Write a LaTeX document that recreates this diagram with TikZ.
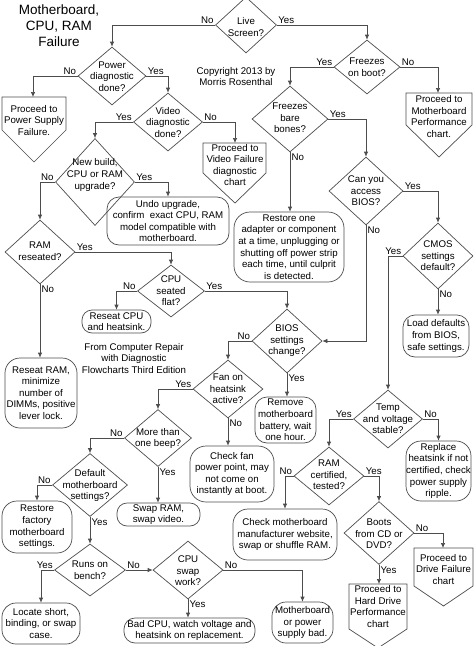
\documentclass[tikz,border=0pt]{standalone}
\usepackage{fontspec}
\setmainfont{Liberation Sans}
\usetikzlibrary{shapes.geometric,arrows.meta}
\definecolor{lc}{gray}{0.3}
\tikzset{
  every node/.style={font=\fontsize{9.7}{11.6}\selectfont, text=black, inner sep=0pt},
  ln/.style={draw=lc, line width=0.7pt},
  arr/.style={ln, -{Latex[length=5pt,width=4.5pt]}},
  dia/.style={diamond, ln, inner sep=0pt},
  rbox/.style={ln, rounded corners=12pt, align=center, inner sep=0pt},
  sbox/.style={ln, rounded corners=10pt, align=center, inner sep=0pt},
  txt/.style={align=center},
  lbl/.style={inner sep=1.2pt},
}
\begin{document}
\begin{tikzpicture}[x=1pt,y=-1pt]
\useasboundingbox (0,0) rectangle (474,646);

% title and notes
\node[font=\fontsize{13.5}{16}\selectfont, align=center] (title) at (59,26) {Motherboard,\\CPU, RAM\\Failure};
\node[txt] (copy) at (236,76.5) {Copyright 2013 by\\Morris Rosenthal};
\node[txt] (from) at (134,358.5) {From Computer Repair\\with Diagnostic\\Flowcharts Third Edition};

% diamonds
\node[dia, minimum width=61pt, minimum height=56pt] (live) at (246,25) {};
\node[txt] at (246,27) {Live\\Screen?};
\node[dia, minimum width=66pt, minimum height=54pt] (fob) at (367,67) {};
\node[txt] at (367,67) {Freezes\\on boot?};
\node[dia, minimum width=68pt, minimum height=58pt] (pwr) at (112,76) {};
\node[txt] at (112,76.5) {Power\\diagnostic\\done?};
\node[dia, minimum width=69pt, minimum height=58pt] (vid) at (168,122) {};
\node[txt] at (168,122.5) {Video\\diagnostic\\done?};
\node[dia, minimum width=76pt, minimum height=66pt] (fbb) at (290,119) {};
\node[txt] at (290,118) {Freezes\\bare\\bones?};
\node[dia, minimum width=79pt, minimum height=87pt] (nb) at (95,182) {};
\node[txt] at (95,175) {New build,\\CPU or RAM\\upgrade?};
\node[dia, minimum width=74pt, minimum height=68pt] (bacc) at (366,191) {};
\node[txt] at (366,191) {Can you\\access\\BIOS?};
\node[dia, minimum width=70pt, minimum height=64pt] (ram) at (40,252) {};
\node[txt] at (40,251) {RAM\\reseated?};
\node[dia, minimum width=70pt, minimum height=66pt] (cmos) at (438,256) {};
\node[txt] at (438,256) {CMOS\\settings\\default?};
\node[dia, minimum width=67pt, minimum height=52pt] (cpu) at (171,291) {};
\node[txt] at (171,291) {CPU\\seated\\flat?};
\node[dia, minimum width=70pt, minimum height=64pt] (bios) at (287,341) {};
\node[txt] at (287,341) {BIOS\\settings\\change?};
\node[dia, minimum width=70pt, minimum height=58pt] (fan) at (228,389) {};
\node[txt] at (228,389) {Fan on\\heatsink\\active?};
\node[dia, minimum width=69pt, minimum height=58pt] (temp) at (388,419) {};
\node[txt] at (388,419) {Temp\\and voltage\\stable?};
\node[dia, minimum width=67pt, minimum height=57pt] (beep) at (158,438) {};
\node[txt] at (158,438.5) {More than\\one beep?};
\node[dia, minimum width=70pt, minimum height=58pt] (ramc) at (329,476) {};
\node[txt] at (329,475) {RAM\\certified,\\tested?};
\node[dia, minimum width=75pt, minimum height=63pt] (def) at (90,485) {};
\node[txt] at (90,485.5) {Default\\motherboard\\settings?};
\node[dia, minimum width=70pt, minimum height=63pt] (boots) at (379,533) {};
\node[txt] at (379,534) {Boots\\from CD or\\DVD?};
\node[dia, minimum width=71pt, minimum height=52pt] (runs) at (90,570) {};
\node[txt] at (90,570) {Runs on\\bench?};
\node[dia, minimum width=70pt, minimum height=58pt] (cswap) at (188,570) {};
\node[txt] at (188,571) {CPU\\swap\\work?};

% rounded boxes
\node[rbox, minimum width=122pt, minimum height=48pt] (undo) at (168,221) {Undo upgrade,\\confirm\ \ exact CPU, RAM\\model compatible with\\motherboard.};
\node[rbox, rounded corners=16pt, minimum width=110pt, minimum height=70pt] (rest) at (289,247) {Restore one\\adapter or component\\at a time, unplugging or\\shutting off power strip\\each time, until culprit\\is detected.};
\node[sbox, minimum width=69pt, minimum height=23pt] (rcpu) at (116.5,321.5) {Reseat CPU\\and heatsink.};
\node[rbox, rounded corners=15pt, minimum width=72pt, minimum height=70pt] (rram) at (41,393) {Reseat RAM,\\minimize\\number of\\DIMMs, positive\\lever lock.};
\node[rbox, minimum width=66pt, minimum height=42pt] (load) at (436,336) {Load defaults\\from BIOS,\\safe settings.};
\node[rbox, minimum width=61pt, minimum height=46pt] (rmb) at (285.5,420) {Remove\\motherboard\\battery, wait\\one hour.};
\node[rbox, rounded corners=16pt, minimum width=84pt, minimum height=56pt] (chk) at (232,474) {Check fan\\power point, may\\not come on\\instantly at boot.};
\node[sbox, minimum width=83pt, minimum height=23pt] (swap) at (158.5,514.5) {Swap RAM,\\swap video.};
\node[rbox, rounded corners=15pt, minimum width=65pt, minimum height=60pt] (repl) at (438.5,471) {Replace\\heatsink if not\\certified, check\\power supply\\ripple.};
\node[rbox, rounded corners=15pt, minimum width=70pt, minimum height=52pt] (rfac) at (37,527) {Restore\\factory\\motherboard\\settings.};
\node[rbox, rounded corners=15pt, minimum width=104pt, minimum height=51pt] (chkm) at (285,534.5) {Check motherboard\\manufacturer website,\\swap or shuffle RAM.};
\node[rbox, rounded corners=14pt, minimum width=78pt, minimum height=41pt] (loc) at (41,623.5) {Locate short,\\binding, or swap\\case.};
\node[sbox, rounded corners=11pt, minimum width=131pt, minimum height=25pt] (bad) at (189.5,630.5) {Bad CPU, watch voltage and\\heatsink on replacement.};
\node[rbox, rounded corners=14pt, minimum width=61pt, minimum height=41pt] (mop) at (302.5,622.5) {Motherboard\\or power\\supply bad.};

% off-page connectors (pentagons)
\draw[ln] (2,97) -- (66,97) -- (66,130) -- (34,162) -- (2,130) -- cycle;
\coordinate (psfT) at (33,97);
\node[txt] (psf) at (34,120.5) {Proceed to\\Power Supply\\Failure.};
\draw[ln] (203,143) -- (266,143) -- (266,173) -- (235,203) -- (203,173) -- cycle;
\coordinate (vfT) at (235,143);
\node[txt] (vf) at (235,165) {Proceed to\\Video Failure\\diagnostic\\chart};
\draw[ln] (406,93) -- (472,93) -- (472,125) -- (439,157) -- (406,125) -- cycle;
\coordinate (mbpT) at (438,93);
\node[txt] (mbp) at (439,116.5) {Proceed to\\Motherboard\\Performance\\chart.};
\draw[ln] (414,548) -- (473,548) -- (473,586) -- (443.5,606) -- (414,586) -- cycle;
\coordinate (dfT) at (443,548);
\node[txt] (df) at (443.5,569.5) {Proceed to\\Drive Failure\\chart};
\draw[ln] (349,584) -- (407,584) -- (407,629) -- (378,648) -- (349,629) -- cycle;
\coordinate (hdT) at (379,584);
\node[txt] (hd) at (378,606.5) {Proceed to\\Hard Drive\\Performance\\chart};

% connectors
\draw[arr] (live.west) node[lbl,above left]{No} -| (pwr.north);
\draw[arr] (live.east) node[lbl,above right]{Yes} -| (fob.north);
\draw[arr] (pwr.west) node[lbl,above left]{No} -| (psfT);
\draw[arr] (pwr.east) node[lbl,above right]{Yes} -| (vid.north);
\draw[arr] (vid.west) node[lbl,above left]{Yes} -| (nb.north);
\draw[arr] (vid.east) node[lbl,above right]{No} -| (vfT);
\draw[arr] (nb.west) node[lbl,above left]{No} -| (ram.north);
\draw[arr] (nb.east) node[lbl,above right]{Yes} -| (undo.north);
\draw[arr] (ram.east) node[lbl,above right]{Yes} -| (cpu.north);
\draw[arr] (ram.south) node[lbl,below right]{No} -- (ram.south |- rram.north);
\draw[arr] (cpu.west) node[lbl,above left]{No} -| (rcpu.north);
\draw[arr] (cpu.east) node[lbl,above right]{Yes} -| (bios.north);
\draw[arr] (bios.west) node[lbl,above left]{No} -| (fan.north);
\draw[arr] (bios.south) node[lbl,below right]{Yes} -- (bios.south |- rmb.north);
\draw[arr] (fan.west) node[lbl,above left]{Yes} -| (beep.north);
\draw[arr] (fan.south) node[lbl,below right]{No} -- (fan.south |- chk.north);
\draw[arr] (beep.west) node[lbl,above left]{No} -| (def.north);
\draw[arr] (beep.south) node[lbl,below right]{Yes} -- (beep.south |- swap.north);
\draw[arr] (def.west) node[lbl,above left]{No} -| (rfac.north);
\draw[arr] (def.south) node[lbl,below right]{Yes} -- (runs.north);
\draw[arr] (runs.west) node[lbl,above left]{Yes} -| (loc.north);
\draw[arr] (runs.east) node[lbl,above right]{No} -- (cswap.west);
\draw[arr] (cswap.south) node[lbl,below right]{Yes} -- (cswap.south |- bad.north);
\draw[arr] (cswap.east) node[lbl,above right]{No} -| (mop.north);
\draw[arr] (fob.west) node[lbl,above left]{Yes} -| (fbb.north);
\draw[arr] (fob.east) node[lbl,above right]{No} -| (mbpT);
\draw[arr] (fbb.east) node[lbl,above right]{Yes} -| (bacc.north);
\draw[arr] (fbb.south) node[lbl,below right]{No} -- (fbb.south |- rest.north);
\draw[arr] (bacc.east) node[lbl,above right]{Yes} -| (cmos.north);
\draw[arr] (bacc.south) node[lbl,below right]{No} |- (bios.east);
\draw[arr] (cmos.south) node[lbl,below right]{No} -- (cmos.south |- load.north);
\draw[arr] (cmos.west) node[lbl,above left]{Yes} -| (temp.north);
\draw[arr] (temp.west) node[lbl,above left]{Yes} -| (ramc.north);
\draw[arr] (temp.east) node[lbl,above right]{No} -| (repl.north);
\draw[arr] (ramc.west) node[lbl,above left]{No} -| (chkm.north);
\draw[arr] (ramc.east) node[lbl,above right]{Yes} -| (boots.north);
\draw[arr] (boots.east) node[lbl,above right]{No} -| (dfT);
\draw[arr] (boots.south) node[lbl,below right]{Yes} -- (hdT);
\end{tikzpicture}
\end{document}
